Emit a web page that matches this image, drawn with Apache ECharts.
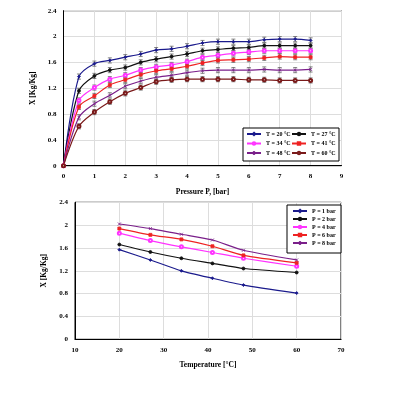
<!DOCTYPE html>
<html><head><meta charset="utf-8">
<script src="https://cdn.jsdelivr.net/npm/echarts@6/dist/echarts.min.js"></script>
<style>html,body{margin:0;padding:0;background:#fff}#c{width:400px;height:395px}</style>
</head><body><div id="c"></div>
<script>
// Top chart: X vs pressure
const pressures = [0,0.5,1,1.5,2,2.5,3,3.5,4,4.5,5,5.5,6,6.5,7,7.5,8];
const tNames = ['T = 20 °C','T = 27 °C','T = 34 °C','T = 41 °C','T = 48 °C','T = 60 °C'];
const t20 = [0,1.38,1.58,1.63,1.68,1.73,1.79,1.81,1.85,1.90,1.92,1.92,1.92,1.95,1.96,1.96,1.94];
const t27 = [0,1.16,1.39,1.48,1.52,1.60,1.65,1.69,1.73,1.78,1.80,1.82,1.83,1.86,1.86,1.86,1.86];
const t34 = [0,1.01,1.21,1.34,1.40,1.48,1.53,1.56,1.61,1.68,1.71,1.74,1.76,1.78,1.78,1.78,1.78];
const t41 = [0,0.91,1.08,1.25,1.33,1.41,1.47,1.50,1.54,1.59,1.63,1.64,1.65,1.67,1.69,1.68,1.68];
const t48 = [0,0.75,0.96,1.09,1.23,1.31,1.37,1.40,1.44,1.47,1.48,1.48,1.48,1.49,1.48,1.48,1.49];
const t60 = [0,0.61,0.83,0.99,1.12,1.21,1.30,1.33,1.34,1.34,1.34,1.34,1.33,1.33,1.32,1.32,1.32];
const errSize = 0.04;
// Bottom chart: X vs temperature
const temps = [20,27,34,41,48,60];
const pNames = ['P = 1 bar','P = 2 bar','P = 4 bar','P = 6 bar','P = 8 bar'];
const p1 = [1.57,1.39,1.20,1.07,0.95,0.81];
const p2 = [1.66,1.53,1.42,1.33,1.24,1.17];
const p4 = [1.86,1.73,1.62,1.52,1.42,1.28];
const p6 = [1.94,1.83,1.75,1.63,1.47,1.34];
const p8 = [2.02,1.94,1.84,1.74,1.56,1.39];

const topColors = ['#1a1a8c','#111111','#ff33ff','#ee2222','#7a1f8a','#7a1a1a'];
const topSymbols = ['diamond','circle','emptyCircle','rect','path://M0,0L10,10M10,0L0,10','emptyCircle'];
const botColors = ['#1a1a8c','#111111','#ff33ff','#ee2222','#7a1f8a'];
const botSymbols = ['diamond','circle','emptyCircle','rect','path://M0,0L10,10M10,0L0,10'];

const font = {fontFamily:'Liberation Serif', fontWeight:'bold', fontSize:7, color:'#000'};
const topSeriesVals = [t20,t27,t34,t41,t48,t60];
const botSeriesVals = [p1,p2,p4,p6,p8];

function axisCommon(){
  return {
    axisLine:{show:true,lineStyle:{color:'#000',width:1}},
    axisTick:{show:false},
    axisLabel:Object.assign({margin:7},font),
    splitLine:{show:true,lineStyle:{color:'#dddddd',width:1}},
    nameTextStyle:Object.assign({},font,{fontSize:7.5})
  };
}

const series = [];
topSeriesVals.forEach((vals,i)=>{
  series.push({
    name:tNames[i], type:'line', xAxisIndex:0, yAxisIndex:0,
    data:pressures.map((p,j)=>[p,vals[j]]),
    smooth:0.3, symbol:topSymbols[i], symbolSize:3, showSymbol:true,
    lineStyle:{color:topColors[i],width:1.2},
    itemStyle:{color:topColors[i],borderColor:topColors[i],borderWidth:0.8}
  });
  series.push({
    type:'custom', xAxisIndex:0, yAxisIndex:0, silent:true, z:1,
    data:pressures.map((p,j)=>[p,vals[j]]).filter(d=>d[0]>0),
    encode:{x:0,y:1},
    renderItem:function(params,api){
      const x=api.value(0), y=api.value(1);
      const t=api.coord([x,y+errSize]), b=api.coord([x,y-errSize]);
      const w=2;
      const st={stroke:'#555',lineWidth:0.7};
      return {type:'group',children:[
        {type:'line',shape:{x1:t[0],y1:t[1],x2:b[0],y2:b[1]},style:st},
        {type:'line',shape:{x1:t[0]-w,y1:t[1],x2:t[0]+w,y2:t[1]},style:st},
        {type:'line',shape:{x1:b[0]-w,y1:b[1],x2:b[0]+w,y2:b[1]},style:st}
      ]};
    }
  });
});
botSeriesVals.forEach((vals,i)=>{
  series.push({
    name:pNames[i], type:'line', xAxisIndex:1, yAxisIndex:1,
    data:temps.map((t,j)=>[t,vals[j]]),
    smooth:0.2, symbol:botSymbols[i], symbolSize:3,
    lineStyle:{color:botColors[i],width:1.2},
    itemStyle:{color:botColors[i],borderColor:botColors[i],borderWidth:0.8}
  });
});

const legText = Object.assign({},font,{fontSize:6});
function legendCol(names,left,top,gap){
  return {data:names,left:left,top:top,orient:'vertical',itemWidth:14,itemHeight:3,itemGap:gap,
    padding:0,textStyle:legText,z:10};
}

const chart = echarts.init(document.getElementById('c'),null,{renderer:'canvas'});
chart.setOption({
  animation:false,
  backgroundColor:'#fff',
  grid:[
    {left:63.5,right:58.5,top:10.7,bottom:229.3,show:true,borderColor:'#000',borderWidth:1,backgroundColor:'transparent'},
    {left:75,right:59,top:202.3,bottom:55.7,show:true,borderColor:'#000',borderWidth:1,backgroundColor:'transparent'}
  ],
  graphic:[
    {type:'rect',shape:{x:243,y:128,width:96,height:33},style:{fill:'#fff',stroke:'#000',lineWidth:1},z:5},
    {type:'rect',shape:{x:287,y:205,width:54,height:48},style:{fill:'#fff',stroke:'#000',lineWidth:1},z:5}
  ],
  xAxis:[
    Object.assign(axisCommon(),{type:'value',gridIndex:0,min:0,max:9,interval:1,name:'Pressure P, [bar]',nameLocation:'middle',nameGap:22}),
    Object.assign(axisCommon(),{type:'value',gridIndex:1,min:10,max:70,interval:10,name:'Temperature [°C]',nameLocation:'middle',nameGap:22})
  ],
  yAxis:[
    Object.assign(axisCommon(),{type:'value',gridIndex:0,min:0,max:2.4,interval:0.4,name:'X [Kg/Kg]',nameLocation:'middle',nameGap:20}),
    Object.assign(axisCommon(),{type:'value',gridIndex:1,min:0,max:2.4,interval:0.4,name:'X [Kg/Kg]',nameLocation:'middle',nameGap:20})
  ],
  legend:[
    legendCol([tNames[0],tNames[2],tNames[4]],246,131,3.5),
    legendCol([tNames[1],tNames[3],tNames[5]],291,131,3.5),
    legendCol(pNames,292,208,2)
  ],
  series:series
});
</script></body></html>
